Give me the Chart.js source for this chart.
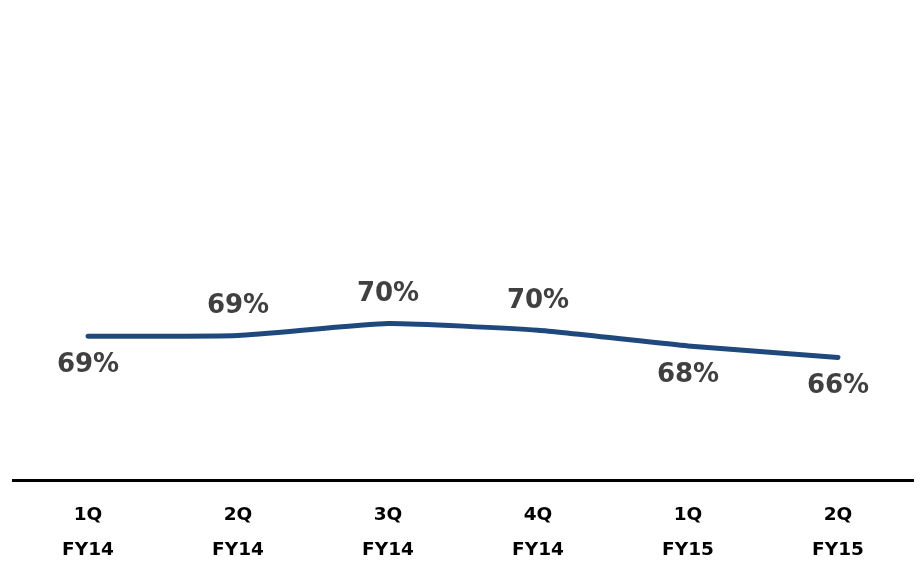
<!DOCTYPE html>
<html lang="en">
<head>
    <meta charset="UTF-8"/>
    <title>Quarterly Ratio</title>
    <script src="https://cdn.jsdelivr.net/npm/chart.js"></script>
    <style>
        html, body {
            margin: 0;
            padding: 0;
            background: #fff;
            width: 100%;
            height: 100%;
            overflow: hidden;
        }
        .chart-wrap {
            position: relative;
            width: 922px;
            height: 564px;
        }
    </style>
</head>
<body>
<div class="chart-wrap">
    <canvas id="ratioChart"></canvas>
</div>

<script>
    // Chart data
    const quarters = ['1Q', '2Q', '3Q', '4Q', '1Q', '2Q'];
    const fiscalYears = ['FY14', 'FY14', 'FY14', 'FY14', 'FY15', 'FY15'];
    const ratioValues = [68.95, 69.05, 70.45, 69.65, 67.8, 66.45];

    // label placement (style only): true = above the line
    const labelAbove = [false, true, true, true, false, false];

    const categoryLabels = quarters.map((q, i) => [q, fiscalYears[i]]);

    const valueLabelPlugin = {
        id: 'valueLabels',
        afterDatasetsDraw(chart) {
            const ctx = chart.ctx;
            const meta = chart.getDatasetMeta(0);
            ctx.save();
            ctx.font = 'bold 26px "DejaVu Sans", Verdana, sans-serif';
            ctx.fillStyle = '#404040';
            ctx.textAlign = 'center';
            ctx.textBaseline = 'middle';
            meta.data.forEach((pt, i) => {
                const dy = labelAbove[i] ? -29 : 29;
                ctx.fillText(Math.round(ratioValues[i]) + '%', pt.x, pt.y + dy);
            });
            ctx.restore();
        }
    };

    const ctx = document.getElementById('ratioChart').getContext('2d');
    new Chart(ctx, {
        type: 'line',
        data: {
            labels: categoryLabels,
            datasets: [{
                data: ratioValues,
                borderColor: '#1F497D',
                borderWidth: 5,
                borderCapStyle: 'round',
                borderJoinStyle: 'round',
                pointRadius: 0,
                tension: 0.15,
                fill: false
            }]
        },
        options: {
            responsive: true,
            maintainAspectRatio: false,
            animation: false,
            layout: {
                padding: { left: 13, right: 9, top: 5, bottom: 0 }
            },
            scales: {
                x: {
                    offset: true,
                    afterFit(scale) { scale.height = 84; },
                    grid: { display: false, drawTicks: false },
                    border: { display: true, color: '#000', width: 3 },
                    ticks: {
                        color: '#000',
                        padding: 18,
                        autoSkip: false,
                        maxRotation: 0,
                        font: { family: '"DejaVu Sans", Verdana, sans-serif', size: 18.5, weight: 'bold', lineHeight: 1.89 }
                    }
                },
                y: {
                    display: false,
                    min: 52,
                    max: 108
                }
            },
            plugins: {
                legend: { display: false },
                tooltip: { enabled: false }
            }
        },
        plugins: [valueLabelPlugin]
    });
</script>
</body>
</html>
